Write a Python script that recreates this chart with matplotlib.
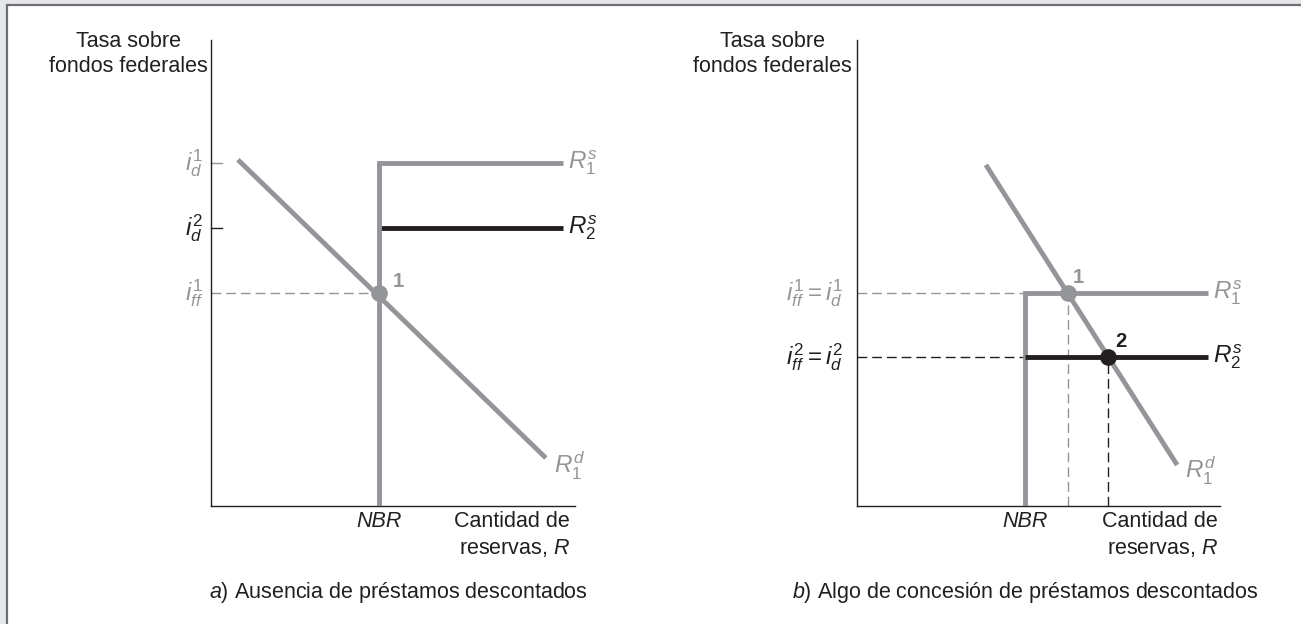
import numpy as np
import matplotlib
matplotlib.use("Agg")
import matplotlib.pyplot as plt
from matplotlib.patches import Rectangle

plt.rcParams['font.family'] = ['Liberation Sans', 'DejaVu Sans']
plt.rcParams['mathtext.fontset'] = 'custom'
plt.rcParams['mathtext.rm'] = 'Liberation Sans'
plt.rcParams['mathtext.it'] = 'Liberation Sans:italic'
plt.rcParams['mathtext.bf'] = 'Liberation Sans:bold'

GRIS = '#939598'
NEGRO = '#231f20'
FS = 15.5
FM = 17.5
DASH = (0, (7, 3.6))

# panel a: sin préstamos descontados
nbr_a = 4.62
rs_fin_a = 9.67
id1_a = 7.36
id2_a = 5.97
iff1_a = 4.57
rd_a_x = [0.74, 9.20]
rd_a_y = [7.43, 1.03]

# panel b: algo de préstamos descontados
nbr_b = 4.63
rs_fin_b = 9.67
i1_b = 4.57
i2_b = 3.20
rd_b_x = [3.55, 8.82]
rd_b_y = [7.32, 0.88]

W, H = 1301, 624
fig = plt.figure(figsize=(W / 100, H / 100), dpi=100)
fig.patch.set_facecolor('#e6e7e8')
fig.patches.append(Rectangle((6.5 / W, -0.1), 1.2, 1 - 4.5 / H + 0.1,
                             transform=fig.transFigure, facecolor='white',
                             edgecolor='#6d6e71', lw=1.6, zorder=-10))

ax1 = fig.add_axes([211 / W, 118 / H, 364 / W, 466 / H])
ax2 = fig.add_axes([857 / W, 118 / H, 363 / W, 466 / H])


def ejes(ax, xc_tasa):
    ax.set_xlim(0, 10)
    ax.set_ylim(0, 10)
    ax.patch.set_alpha(0)
    for s in ['top', 'right']:
        ax.spines[s].set_visible(False)
    for s in ['left', 'bottom']:
        ax.spines[s].set_linewidth(1.0)
        ax.spines[s].set_color(NEGRO)
    ax.set_xticks([])
    ax.set_yticks([])
    ax.text(xc_tasa, 9.70, 'Tasa sobre\nfondos federales', ha='center', va='center',
            fontsize=FS, color=NEGRO, linespacing=1.2, clip_on=False)


def punto_en(xs, ys, y):
    # x donde la demanda corta la tasa y
    return np.interp(y, ys[::-1], xs[::-1])


# ---------------- panel a ----------------
ejes(ax1, -2.28)
ax1.plot(rd_a_x, rd_a_y, color=GRIS, lw=3.5, solid_capstyle='butt', zorder=3)
ax1.plot([nbr_a, rs_fin_a], [id2_a, id2_a], color=NEGRO, lw=3.5, solid_capstyle='butt', zorder=3)
ax1.plot([nbr_a, nbr_a, rs_fin_a], [0, id1_a, id1_a], color=GRIS, lw=3.5,
         solid_joinstyle='miter', solid_capstyle='butt', zorder=4)
ax1.plot([0, nbr_a], [iff1_a, iff1_a], color=GRIS, lw=1.0, ls=DASH, zorder=2)
ax1.plot([0, 0.3], [id1_a, id1_a], color=GRIS, lw=1.0, clip_on=False)
ax1.plot([0, 0.3], [id2_a, id2_a], color=NEGRO, lw=1.0, clip_on=False)
ax1.plot([nbr_a], [iff1_a], 'o', color=GRIS, ms=11, zorder=5)
ax1.annotate('1', (nbr_a, iff1_a), xytext=(14, 8), textcoords='offset points',
             fontsize=FS - 1, fontweight='bold', color=GRIS, va='center', ha='center')

ax1.text(-0.22, id1_a, r'$i_d^1$', ha='right', va='center', fontsize=FM, color=GRIS)
ax1.text(-0.22, id2_a, r'$i_d^2$', ha='right', va='center', fontsize=FM, color=NEGRO)
ax1.text(-0.22, iff1_a, r'$i_{ff}^1$', ha='right', va='center', fontsize=FM, color=GRIS)
ax1.text(rs_fin_a + 0.13, id1_a, r'$R_1^s$', ha='left', va='center', fontsize=FM, color=GRIS)
ax1.text(rs_fin_a + 0.13, id2_a, r'$R_2^s$', ha='left', va='center', fontsize=FM, color=NEGRO)
ax1.annotate(r'$R_1^d$', (rd_a_x[1], rd_a_y[1]), xytext=(6, -6), textcoords='offset points',
             ha='left', va='center', fontsize=FM, color=GRIS)

ax1.text(nbr_a, -0.33, 'NBR', ha='center', va='center', fontsize=FS, style='italic', color=NEGRO)
ax1.text(9.86, -0.62, 'Cantidad de\nreservas, $R$', ha='right', va='center',
         fontsize=FS, color=NEGRO, linespacing=1.25)
ax1.text(5.14, -1.85, r'$a$) Ausencia de préstamos descontados', ha='center', va='center',
         fontsize=FS, color=NEGRO)

# ---------------- panel b ----------------
ejes(ax2, -2.33)
p1x = punto_en(rd_b_x, rd_b_y, i1_b)
p2x = punto_en(rd_b_x, rd_b_y, i2_b)

ax2.plot(rd_b_x, rd_b_y, color=GRIS, lw=3.5, solid_capstyle='butt', zorder=3)
ax2.plot([nbr_b, nbr_b, rs_fin_b], [0, i1_b, i1_b], color=GRIS, lw=3.5,
         solid_joinstyle='miter', solid_capstyle='butt', zorder=3)
ax2.plot([nbr_b, rs_fin_b], [i2_b, i2_b], color=NEGRO, lw=3.5, solid_capstyle='butt', zorder=4)
ax2.plot([0, nbr_b], [i1_b, i1_b], color=GRIS, lw=1.0, ls=DASH, zorder=2)
ax2.plot([p1x, p1x], [0, i1_b], color=GRIS, lw=1.0, ls=DASH, zorder=2)
ax2.plot([0, nbr_b], [i2_b, i2_b], color=NEGRO, lw=1.0, ls=DASH, zorder=2)
ax2.plot([p2x, p2x], [0, i2_b], color=NEGRO, lw=1.0, ls=DASH, zorder=2)
ax2.plot([p1x], [i1_b], 'o', color=GRIS, ms=11, zorder=5)
ax2.plot([p2x], [i2_b], 'o', color=NEGRO, ms=11, zorder=5)
ax2.annotate('1', (p1x, i1_b), xytext=(8, 11.5), textcoords='offset points',
             fontsize=FS - 1, fontweight='bold', color=GRIS, va='center', ha='center')
ax2.annotate('2', (p2x, i2_b), xytext=(9, 11), textcoords='offset points',
             fontsize=FS - 1, fontweight='bold', color=NEGRO, va='center', ha='center')

ax2.text(-0.39, i1_b, r'$i_{ff}^1 = i_d^1$', ha='right', va='center', fontsize=FM, color=GRIS)
ax2.text(-0.39, i2_b, r'$i_{ff}^2 = i_d^2$', ha='right', va='center', fontsize=FM, color=NEGRO)
ax2.text(rs_fin_b + 0.13, i1_b, r'$R_1^s$', ha='left', va='center', fontsize=FM, color=GRIS)
ax2.text(rs_fin_b + 0.13, i2_b, r'$R_2^s$', ha='left', va='center', fontsize=FM, color=NEGRO)
ax2.annotate(r'$R_1^d$', (rd_b_x[1], rd_b_y[1]), xytext=(6, -4), textcoords='offset points',
             ha='left', va='center', fontsize=FM, color=GRIS)

ax2.text(nbr_b, -0.33, 'NBR', ha='center', va='center', fontsize=FS, style='italic', color=NEGRO)
ax2.text(9.94, -0.62, 'Cantidad de\nreservas, $R$', ha='right', va='center',
         fontsize=FS, color=NEGRO, linespacing=1.25)
ax2.text(4.63, -1.85, r'$b$) Algo de concesión de préstamos descontados', ha='center', va='center',
         fontsize=FS, color=NEGRO)

fig.savefig('out.png', dpi=100, facecolor=fig.get_facecolor())
